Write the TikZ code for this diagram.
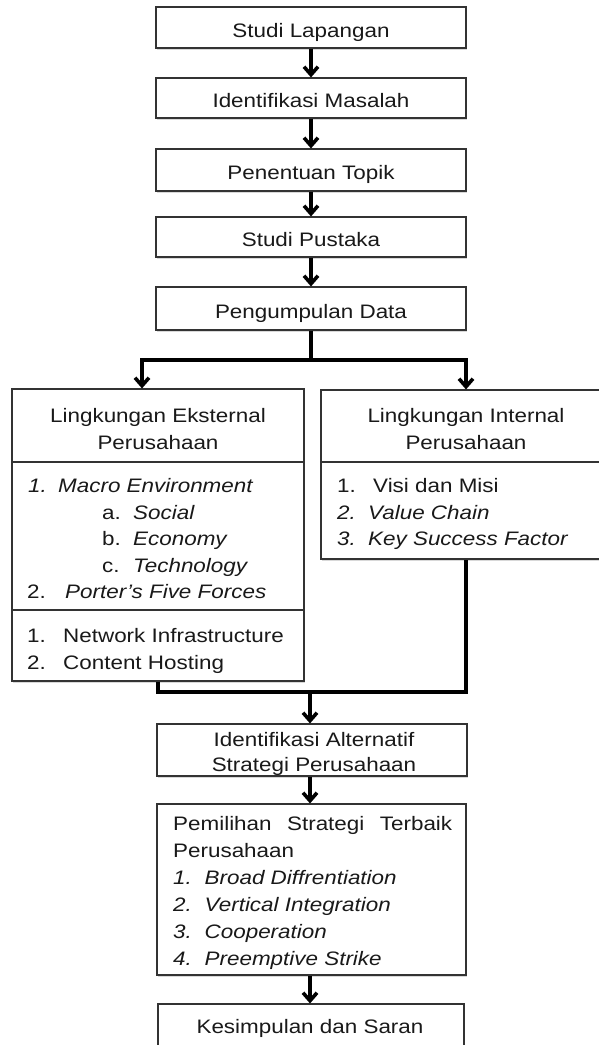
\documentclass[tikz,border=0pt]{standalone}
\usepackage{fontspec}
\setmainfont[FakeStretch=1.15]{Liberation Sans}
\usetikzlibrary{arrows.meta,shadows}
\begin{document}
\begin{tikzpicture}[x=1pt,y=-1pt,
 box/.style={draw=black!80, line width=1.1pt, fill=white, rectangle, inner sep=0pt,
   drop shadow={shadow xshift=1.3pt, shadow yshift=-1.6pt, opacity=0.3}},
 one/.style={box, font=\fontsize{19.5}{26}\selectfont, text=black!90, text height=19.5pt, text depth=0pt},
 txt/.style={inner sep=0pt, font=\fontsize{19.5}{26}\selectfont, text=black!90},
 conn/.style={line width=3.6pt, black},
 arr/.style={conn, -{Straight Barb[length=8pt,width=14pt]}},
]
\useasboundingbox[fill=white] (0,0) rectangle (599,1045);

% top chain
\node[one, minimum width=310pt, minimum height=41pt] (b1) at (311,27.5) {Studi Lapangan};
\node[one, minimum width=310pt, minimum height=40pt] (b2) at (311,98) {Identifikasi Masalah};
\node[one, minimum width=310pt, minimum height=42pt] (b3) at (311,170) {Penentuan Topik};
\node[one, minimum width=310pt, minimum height=40pt] (b4) at (311,237) {Studi Pustaka};
\node[one, minimum width=310pt, minimum height=43pt] (b5) at (311,308.5) {Pengumpulan Data};

\draw[arr] (b1.south) -- (b2.north);
\draw[arr] (b2.south) -- (b3.north);
\draw[arr] (b3.south) -- (b4.north);
\draw[arr] (b4.south) -- (b5.north);

% external environment box
\node[box, minimum width=292pt, minimum height=73pt] (extT) at (158,425.5) {};
\node[box, minimum width=292pt, minimum height=148pt] (extL) at (158,536) {};
\node[box, minimum width=292pt, minimum height=71pt] (extN) at (158,645.5) {};
\node[txt, anchor=base] (eT1) at (158,422) {Lingkungan Eksternal};
\node[txt, anchor=base] (eT2) at (158,449) {Perusahaan};
\node[txt, anchor=base west] (eL1) at (28,492) {\makebox[30pt][l]{\itshape 1.}\textit{Macro Environment}};
\node[txt, anchor=base west] (eL2) at (102,519) {\makebox[31pt][l]{a.}\textit{Social}};
\node[txt, anchor=base west] (eL3) at (102,545.5) {\makebox[31pt][l]{b.}\textit{Economy}};
\node[txt, anchor=base west] (eL4) at (102,572) {\makebox[31pt][l]{c.}\textit{Technology}};
\node[txt, anchor=base west] (eL5) at (27,598) {\makebox[38pt][l]{2.}\textit{Porter’s Five Forces}};
\node[txt, anchor=base west] (eN1) at (27,642) {\makebox[36pt][l]{1.}Network Infrastructure};
\node[txt, anchor=base west] (eN2) at (27,669) {\makebox[36pt][l]{2.}Content Hosting};

% internal environment box
\node[box, minimum width=290pt, minimum height=72pt] (intT) at (466,426) {};
\node[box, minimum width=290pt, minimum height=97pt] (intL) at (466,510.5) {};
\node[txt, anchor=base] (iT1) at (466,422) {Lingkungan Internal};
\node[txt, anchor=base] (iT2) at (466,449) {Perusahaan};
\node[txt, anchor=base west] (iL1) at (337,492) {\makebox[36pt][l]{1.}Visi dan Misi};
\node[txt, anchor=base west] (iL2) at (337,519) {\makebox[31pt][l]{\itshape 2.}\textit{Value Chain}};
\node[txt, anchor=base west] (iL3) at (337,545.5) {\makebox[31pt][l]{\itshape 3.}\textit{Key Success Factor}};

% split
\coordinate (split) at (311,360);
\coordinate (la) at (142,360);
\coordinate (ra) at (466,360);
\draw[conn] (b5.south) -- (split);
\draw[conn, {Straight Barb[length=8pt,width=14pt]}-{Straight Barb[length=8pt,width=14pt]}]
  (la |- extT.north) -- (la) -- (ra) -- (ra |- intT.north);

% lower chain
\node[box, minimum width=310pt, minimum height=52pt] (alt) at (312,750) {};
\node[txt, anchor=base] (aT1) at (314,746.5) {Identifikasi Alternatif};
\node[txt, anchor=base] (aT2) at (314,771.5) {Strategi Perusahaan};

\node[box, minimum width=309pt, minimum height=171pt] (pem) at (311.5,889.5) {};
\node[txt, anchor=base west] (p1) at (173,830) {\makebox[279pt][s]{Pemilihan\hfill Strategi\hfill Terbaik}};
\node[txt, anchor=base west] (p2) at (173,857) {Perusahaan};
\node[txt, anchor=base west] (p3) at (173,884) {\itshape\makebox[31.5pt][l]{1.}Broad Diffrentiation};
\node[txt, anchor=base west] (p4) at (173,911) {\itshape\makebox[31.5pt][l]{2.}Vertical Integration};
\node[txt, anchor=base west] (p5) at (173,938) {\itshape\makebox[31.5pt][l]{3.}Cooperation};
\node[txt, anchor=base west] (p6) at (173,965) {\itshape\makebox[31.5pt][l]{4.}Preemptive Strike};

\node[box, minimum width=306pt, minimum height=60pt] (kes) at (311,1034) {};
\node[txt, anchor=base] (kT) at (310,1033) {Kesimpulan dan Saran};

% join
\coordinate (jn) at (310,692);
\draw[conn] (extN.south) |- (intL.south |- jn) -- (intL.south);
\draw[arr] (jn) -- (jn |- alt.north);
\draw[arr] (alt.south -| 310,0) -- (pem.north -| 310,0);
\draw[arr] (pem.south -| 310,0) -- (kes.north -| 310,0);
\end{tikzpicture}
\end{document}
